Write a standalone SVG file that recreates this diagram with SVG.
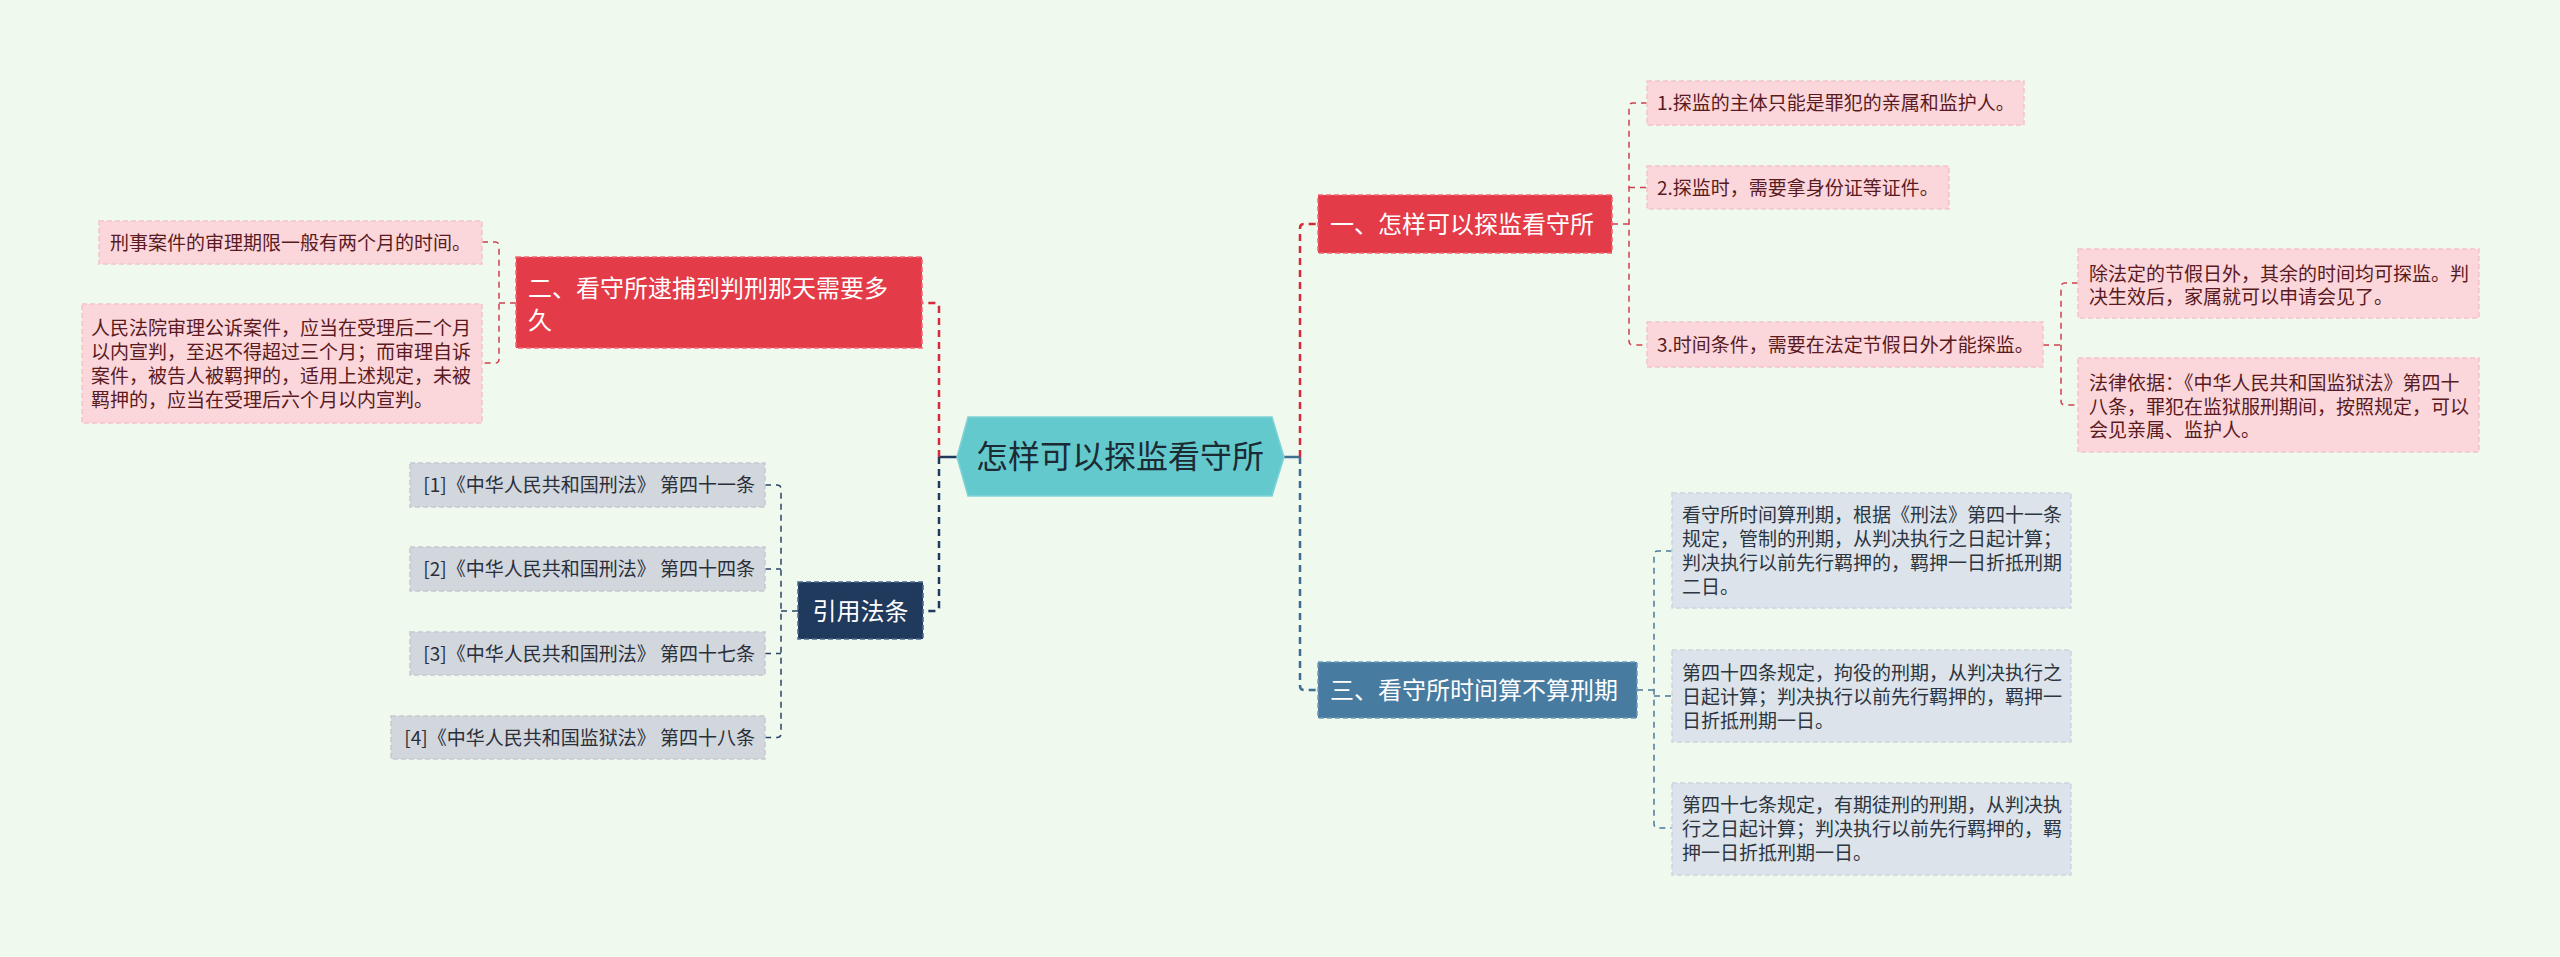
<svg xmlns="http://www.w3.org/2000/svg" width="2560" height="957" viewBox="0 0 2560 957">
<style>
text{font-family:"Noto Sans CJK SC","Noto Sans",sans-serif;}
.bg{fill:#eff9ee;}
.red{fill:#e43b48;stroke:#f26673;stroke-width:1.5;stroke-dasharray:5 3;}
.steel{fill:#487ba0;stroke:#6f9bbb;stroke-width:1.5;stroke-dasharray:5 3;}
.navy{fill:#1f3a5c;stroke:#4d6a8c;stroke-width:1.5;stroke-dasharray:5 3;}
.pink{fill:#fbd6da;stroke:#f6c3c8;stroke-width:1.5;stroke-dasharray:5 3;}
.bleaf{fill:#dce3ea;stroke:#ccd6df;stroke-width:1.5;stroke-dasharray:5 3;}
.gleaf{fill:#d2d6dd;stroke:#c4c9d2;stroke-width:1.5;stroke-dasharray:5 3;}
.wt{fill:#ffffff;font-size:24px;}
.pt{fill:#5a1a22;font-size:19px;}
.bt{fill:#2c3540;font-size:19px;}
.gt{fill:#2a2f3a;font-size:19px;}
.c{fill:none;stroke-linecap:butt;}
.cr{stroke:#d42a3c;stroke-width:2.5;stroke-dasharray:7 5;}
.cs{stroke:#3e6e90;stroke-width:2.5;stroke-dasharray:7 5;}
.cn{stroke:#1f3a5c;stroke-width:2.5;stroke-dasharray:7 5;}
.lr{stroke:#d0404f;stroke-width:1.5;stroke-dasharray:6 5;}
.ls{stroke:#4a7a9a;stroke-width:1.5;stroke-dasharray:6 5;}
.ln{stroke:#2a4466;stroke-width:1.5;stroke-dasharray:6 5;}
</style>
<rect class="bg" x="0" y="0" width="2560" height="957"/>

<g id="connectors">
  <!-- center right -->
  <path class="c" d="M1284 457 H1300" stroke="#3e6e90" stroke-width="2.5"/>
  <path class="c cr" d="M1300 457 V228 Q1300 224 1304 224 H1318"/>
  <path class="c cs" d="M1300 457 V686 Q1300 690 1304 690 H1318"/>
  <!-- center left -->
  <path class="c" d="M957 457 H939" stroke="#1f3a5c" stroke-width="2.5"/>
  <path class="c cr" d="M939 457 V307 Q939 303 935 303 H922"/>
  <path class="c cn" d="M939 457 V607 Q939 611 935 611 H923"/>
  <!-- section 1 leaves -->
  <path class="c lr" d="M1612 224 H1629"/>
  <path class="c lr" d="M1647 103 H1633 Q1629 103 1629 107 V341 Q1629 345 1633 345 H1647"/>
  <path class="c lr" d="M1629 187.5 H1647"/>
  <!-- sub leaves -->
  <path class="c lr" d="M2043 345 H2061"/>
  <path class="c lr" d="M2078 283 H2065 Q2061 283 2061 287 V401 Q2061 405 2065 405 H2078"/>
  <!-- section 3 leaves -->
  <path class="c ls" d="M1637 690 H1654"/>
  <path class="c ls" d="M1672 551 H1658 Q1654 551 1654 555 V824 Q1654 828 1658 828 H1672"/>
  <path class="c ls" d="M1654 696 H1672"/>
  <!-- section 2 leaves -->
  <path class="c lr" d="M516 303 H499"/>
  <path class="c lr" d="M482 242 H495 Q499 242 499 246 V359 Q499 363 495 363 H482"/>
  <!-- refs -->
  <path class="c ln" d="M798 611 H781"/>
  <path class="c ln" d="M765 485 H777 Q781 485 781 489 V733.5 Q781 737.5 777 737.5 H765"/>
  <path class="c ln" d="M765 569 H781"/>
  <path class="c ln" d="M765 653.5 H781"/>
</g>

<g id="center">
  <polygon points="957,457 968,417 1272,417 1284,457 1272,496 968,496" fill="#63c9cd" stroke="#7fd3d6" stroke-width="1.5"/>
  <text x="1120" y="468" font-size="32" fill="#1c2b33" text-anchor="middle">怎样可以探监看守所</text>
</g>

<g id="sec1">
  <rect class="red" x="1318" y="195" width="294" height="58"/>
  <text class="wt" x="1330" y="233">一、怎样可以探监看守所</text>
</g>
<g id="sec1-leaf1">
  <rect class="pink" x="1647" y="81" width="377" height="44"/>
  <text class="pt" x="1657" y="110">1.探监的主体只能是罪犯的亲属和监护人。</text>
</g>
<g id="sec1-leaf2">
  <rect class="pink" x="1647" y="166" width="302" height="43"/>
  <text class="pt" x="1657" y="194.5">2.探监时，需要拿身份证等证件。</text>
</g>
<g id="sec1-leaf3">
  <rect class="pink" x="1647" y="322" width="396" height="45"/>
  <text class="pt" x="1657" y="351.5">3.时间条件，需要在法定节假日外才能探监。</text>
</g>
<g id="sub-a">
  <rect class="pink" x="2078" y="249" width="401" height="69"/>
  <text class="pt" x="2089" y="281">除法定的节假日外，其余的时间均可探监。判</text>
  <text class="pt" x="2089" y="304">决生效后，家属就可以申请会见了。</text>
</g>
<g id="sub-b">
  <rect class="pink" x="2078" y="358" width="401" height="94"/>
  <text class="pt" x="2089" y="390">法律依据：《中华人民共和国监狱法》第四十</text>
  <text class="pt" x="2089" y="413.5">八条，罪犯在监狱服刑期间，按照规定，可以</text>
  <text class="pt" x="2089" y="437">会见亲属、监护人。</text>
</g>

<g id="sec3">
  <rect class="steel" x="1318" y="662" width="319" height="56"/>
  <text class="wt" x="1330" y="699">三、看守所时间算不算刑期</text>
</g>
<g id="sec3-leaf1">
  <rect class="bleaf" x="1672" y="493" width="399" height="115"/>
  <text class="bt" x="1682" y="522">看守所时间算刑期，根据《刑法》第四十一条</text>
  <text class="bt" x="1682" y="546">规定，管制的刑期，从判决执行之日起计算；</text>
  <text class="bt" x="1682" y="570">判决执行以前先行羁押的，羁押一日折抵刑期</text>
  <text class="bt" x="1682" y="594">二日。</text>
</g>
<g id="sec3-leaf2">
  <rect class="bleaf" x="1672" y="650" width="399" height="92"/>
  <text class="bt" x="1682" y="680">第四十四条规定，拘役的刑期，从判决执行之</text>
  <text class="bt" x="1682" y="704">日起计算；判决执行以前先行羁押的，羁押一</text>
  <text class="bt" x="1682" y="728">日折抵刑期一日。</text>
</g>
<g id="sec3-leaf3">
  <rect class="bleaf" x="1672" y="783" width="399" height="92"/>
  <text class="bt" x="1682" y="812">第四十七条规定，有期徒刑的刑期，从判决执</text>
  <text class="bt" x="1682" y="836">行之日起计算；判决执行以前先行羁押的，羁</text>
  <text class="bt" x="1682" y="860">押一日折抵刑期一日。</text>
</g>

<g id="sec2">
  <rect class="red" x="516" y="257" width="406" height="91"/>
  <text class="wt" x="528" y="297">二、看守所逮捕到判刑那天需要多</text>
  <text class="wt" x="528" y="329">久</text>
</g>
<g id="sec2-leaf1">
  <rect class="pink" x="99" y="221" width="383" height="43"/>
  <text class="pt" x="110" y="249.5" font-size="18.5">刑事案件的审理期限一般有两个月的时间。</text>
</g>
<g id="sec2-leaf2">
  <rect class="pink" x="82" y="304" width="400" height="119"/>
  <text class="pt" x="91" y="334.5">人民法院审理公诉案件，应当在受理后二个月</text>
  <text class="pt" x="91" y="358.5">以内宣判，至迟不得超过三个月；而审理自诉</text>
  <text class="pt" x="91" y="382.5">案件，被告人被羁押的，适用上述规定，未被</text>
  <text class="pt" x="91" y="406.5">羁押的，应当在受理后六个月以内宣判。</text>
</g>

<g id="refs">
  <rect class="navy" x="798" y="582" width="125" height="57"/>
  <text class="wt" x="860.5" y="619.5" text-anchor="middle">引用法条</text>
</g>
<g id="ref1">
  <rect class="gleaf" x="410" y="463" width="355" height="44"/>
  <text class="gt" x="755" y="492" text-anchor="end">[1]《中华人民共和国刑法》 第四十一条</text>
</g>
<g id="ref2">
  <rect class="gleaf" x="410" y="547" width="355" height="44"/>
  <text class="gt" x="755" y="576" text-anchor="end">[2]《中华人民共和国刑法》 第四十四条</text>
</g>
<g id="ref3">
  <rect class="gleaf" x="410" y="632" width="355" height="43"/>
  <text class="gt" x="755" y="660.5" text-anchor="end">[3]《中华人民共和国刑法》 第四十七条</text>
</g>
<g id="ref4">
  <rect class="gleaf" x="391" y="716" width="374" height="43"/>
  <text class="gt" x="755" y="744.5" text-anchor="end">[4]《中华人民共和国监狱法》 第四十八条</text>
</g>
</svg>
